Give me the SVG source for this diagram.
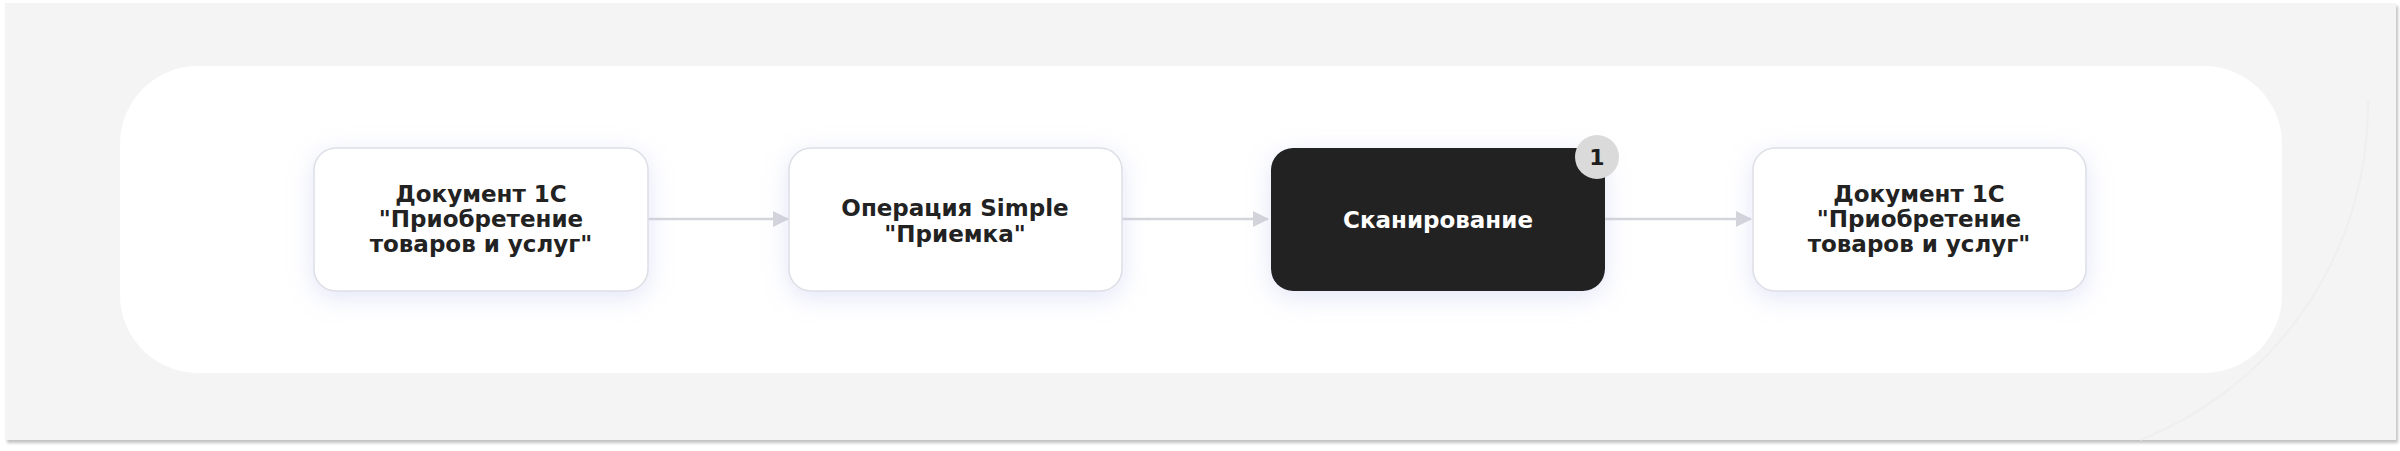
<svg xmlns="http://www.w3.org/2000/svg" width="2400" height="451" viewBox="0 0 2400 451">
  <defs>
    <filter id="nodeShadow" x="-30%" y="-40%" width="160%" height="180%">
      <feDropShadow dx="0" dy="6" stdDeviation="12" flood-color="#aeb6e8" flood-opacity="0.35"/>
    </filter>
    <filter id="panelShadow" x="-5%" y="-10%" width="110%" height="120%">
      <feDropShadow dx="2" dy="3" stdDeviation="1.5" flood-color="#9a9a9a" flood-opacity="0.6"/>
    </filter>
    <marker id="arrow" viewBox="0 0 16 16" refX="15" refY="8" markerWidth="16" markerHeight="16" markerUnits="userSpaceOnUse" orient="auto">
      <path d="M0,0 L16,8 L0,16 Z" fill="#d4d5da"/>
    </marker>
    <style>
      .node { fill: #ffffff; stroke: #dedfe6; stroke-width: 1.5; }
      .dark { fill: #222222; stroke: none; }
      .label { font-family: "DejaVu Sans", "Liberation Sans", sans-serif; font-weight: 700; font-size: 23px; fill: #222222; text-anchor: middle; }
      .label-light { fill: #ffffff; }
      .conn { stroke: #d4d5da; stroke-width: 2.5; fill: none; }
      .badge-text { font-family: "DejaVu Sans", "Liberation Sans", sans-serif; font-weight: 700; font-size: 22px; fill: #1e1e1e; text-anchor: middle; }
    </style>
  </defs>

  <rect x="0" y="0" width="2400" height="451" fill="#ffffff"/>
  <g id="background">
    <rect x="5" y="3" width="2391" height="437" fill="#f4f4f4" filter="url(#panelShadow)"/>
    <path d="M2140,440 A360,360 0 0 0 2368,100" fill="none" stroke="#ececec" stroke-width="2" opacity="0.7"/>
    <rect x="120" y="66" width="2162" height="307" rx="78" ry="78" fill="#ffffff"/>
  </g>

  <g id="connectors">
    <line class="conn" x1="648" y1="219" x2="788" y2="219" marker-end="url(#arrow)"/>
    <line class="conn" x1="1122" y1="219" x2="1268" y2="219" marker-end="url(#arrow)"/>
    <line class="conn" x1="1605" y1="219" x2="1751" y2="219" marker-end="url(#arrow)"/>
  </g>

  <g id="node-doc1">
    <rect class="node" x="314" y="148" width="334" height="143" rx="22" filter="url(#nodeShadow)"/>
    <text class="label" x="481" y="202">Документ 1С</text>
    <text class="label" x="481" y="227">"Приобретение</text>
    <text class="label" x="481" y="252">товаров и услуг"</text>
  </g>

  <g id="node-simple">
    <rect class="node" x="789" y="148" width="333" height="143" rx="22" filter="url(#nodeShadow)"/>
    <text class="label" x="955" y="216">Операция Simple</text>
    <text class="label" x="955" y="242">"Приемка"</text>
  </g>

  <g id="node-scan">
    <rect class="dark" x="1271" y="148" width="334" height="143" rx="22" filter="url(#nodeShadow)"/>
    <text class="label label-light" x="1438" y="228">Сканирование</text>
    <g id="badge">
      <circle cx="1597" cy="157" r="22" fill="#dadada"/>
      <text class="badge-text" x="1597" y="165">1</text>
    </g>
  </g>

  <g id="node-doc2">
    <rect class="node" x="1753" y="148" width="333" height="143" rx="22" filter="url(#nodeShadow)"/>
    <text class="label" x="1919" y="202">Документ 1С</text>
    <text class="label" x="1919" y="227">"Приобретение</text>
    <text class="label" x="1919" y="252">товаров и услуг"</text>
  </g>
</svg>
